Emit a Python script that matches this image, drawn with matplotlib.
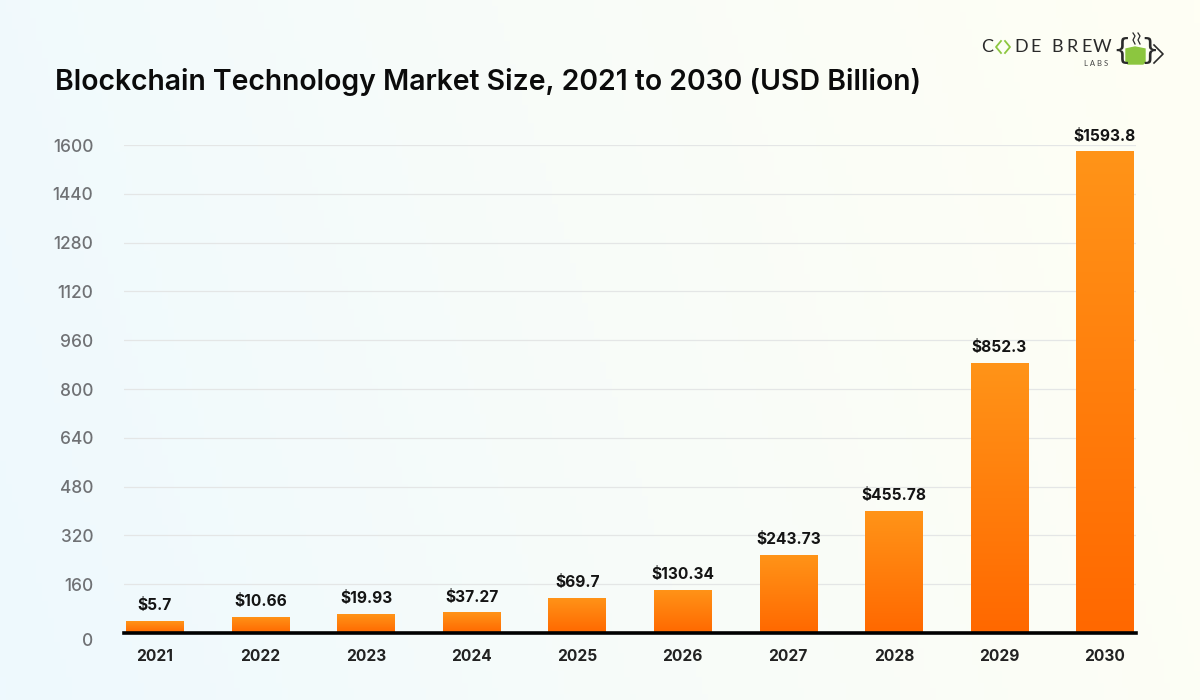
import matplotlib
matplotlib.use("Agg")
import matplotlib.pyplot as plt
from matplotlib.colors import LinearSegmentedColormap
from matplotlib.patches import Polygon
import numpy as np

years = ["2021", "2022", "2023", "2024", "2025", "2026", "2027", "2028", "2029", "2030"]
# bar heights as drawn (they don't follow the printed labels exactly)
bar_heights = [39, 54, 62, 68, 115, 141, 256, 400, 886, 1579]
value_labels = ["$5.7", "$10.66", "$19.93", "$37.27", "$69.7", "$130.34", "$243.73", "$455.78", "$852.3", "$1593.8"]
y_ticks = [160, 320, 480, 640, 800, 960, 1120, 1280, 1440, 1600]

plt.rcParams["font.family"] = ["Inter", "DejaVu Sans"]

fig = plt.figure(figsize=(12, 7), dpi=100)

# page background, pale blue on the left to cream on the right
bg = fig.add_axes([0, 0, 1, 1], zorder=0)
bg_cmap = LinearSegmentedColormap.from_list("bg", ["#eef9fe", "#f8fcf9", "#fffff4"])
xx, yy = np.meshgrid(np.linspace(0, 1, 200), np.linspace(0, 1, 120))
bg.imshow(0.85 * xx + 0.15 * yy, cmap=bg_cmap, aspect="auto", extent=[0, 1, 0, 1], origin="lower", vmin=0, vmax=1)
bg.axis("off")

# chart area: x 124-1136 px, y 145-633 px
ax = fig.add_axes([124 / 1200, 1 - 633 / 700, 1012 / 1200, 488 / 700], zorder=1)
ax.patch.set_alpha(0)
step = 105.55
ax.set_xlim((124 - 155) / step, (1136 - 155) / step)
ax.set_ylim(0, 1600)

for t in y_ticks:
    ax.axhline(t, color="#e4e6e6", lw=0.9, zorder=1)

x = np.arange(len(years))
bars = ax.bar(x, bar_heights, width=57.5 / step, color="#ff8000", zorder=2)

# vertical orange fade inside every bar
bar_cmap = LinearSegmentedColormap.from_list("bar", ["#ff6800", "#ff9418"])
grad = np.linspace(0, 1, 256).reshape(-1, 1)
for b in bars:
    l, w, h = b.get_x(), b.get_width(), b.get_height()
    im = ax.imshow(grad, cmap=bar_cmap, extent=[l, l + w, 0, h], origin="lower", aspect="auto", zorder=3)
    im.set_clip_path(b)
ax.set_xlim((124 - 155) / step, (1136 - 155) / step)
ax.set_ylim(0, 1600)

for xi, h, lab in zip(x, bar_heights, value_labels):
    ax.annotate(lab, (xi, h), xytext=(0, 5.5), textcoords="offset points", ha="center", va="bottom",
                fontsize=11.2, fontweight="bold", color="#141414", zorder=5)

for s in ["top", "right", "left"]:
    ax.spines[s].set_visible(False)
ax.spines["bottom"].set_linewidth(2.6)
ax.spines["bottom"].set_color("#000000")
ax.spines["bottom"].set_zorder(6)

ax.set_xticks(x)
ax.set_xticklabels(years, fontsize=11.2, fontweight="bold", color="#222222")
ax.tick_params(axis="x", length=0, pad=11.8)
ax.set_yticks(y_ticks)
ax.set_yticklabels([str(t) for t in y_ticks], fontsize=12.4, fontweight="medium", color="#6f7174")
ax.tick_params(axis="y", length=0, pad=22)

fig.text(55 / 1200, 1 - 82 / 700, "Blockchain Technology Market Size, 2021 to 2030 (USD Billion)",
         fontsize=20.45, fontweight="semibold", color="#0b0b0b", va="center", ha="left", zorder=4)

# zero label sits below the axis line in the original
fig.text(93 / 1200, 1 - 641 / 700, "0", fontsize=12.4, fontweight="medium", color="#6f7174", ha="right", va="center", zorder=4)

# logo, pixel coordinates
lg = fig.add_axes([0, 0, 1, 1], zorder=5)
lg.set_xlim(0, 1200)
lg.set_ylim(700, 0)
lg.axis("off")
lg.patch.set_alpha(0)
dark = "#2a2a2a"
green = "#8cc63f"
for px, ch in zip([981, 1014, 1030, 1051, 1066, 1081, 1093], ["C", "D", "E", "B", "R", "E", "W"]):
    lg.text(px, 47, ch, fontsize=13, color=dark, ha="left", va="center", family="Lato")
lg.plot([1001, 996, 1001], [41, 47, 53], color=green, lw=1.3)
lg.plot([1005, 1010, 1005], [41, 47, 53], color=green, lw=1.3)
lg.text(1084, 63, "L A B S", fontsize=5.5, color="#444444", ha="left", va="center", family="Lato")
lg.add_patch(Polygon([[1126, 49], [1135, 47], [1145, 49], [1145, 62], [1143, 64], [1128, 64], [1126, 62]],
                     closed=True, color=green))
lg.text(1122, 51, "{", fontsize=21, color=dark, ha="center", va="center", family="DejaVu Sans", fontweight="normal")
lg.text(1150, 51, "}", fontsize=21, color=dark, ha="center", va="center", family="DejaVu Sans", fontweight="normal")
lg.plot([1154, 1163, 1154], [45, 54, 63], color=dark, lw=1.2)
lg.plot([1133, 1135, 1133, 1135], [33, 36, 40, 44], color=dark, lw=0.9)
lg.plot([1138, 1140, 1138, 1140], [33, 36, 40, 44], color=dark, lw=0.9)

fig.savefig("out.png", dpi=100)
